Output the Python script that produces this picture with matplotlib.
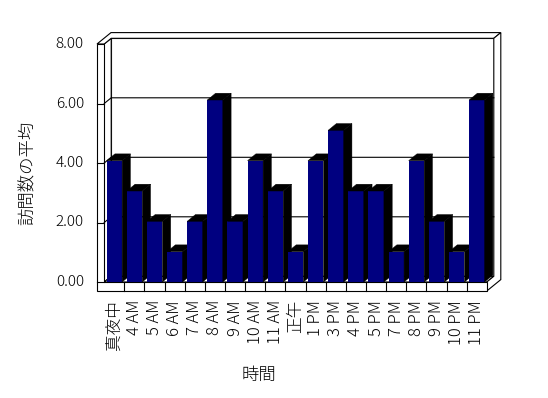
import matplotlib
matplotlib.use("Agg")
import matplotlib.pyplot as plt
from matplotlib.patches import Polygon, Rectangle
import matplotlib.transforms as mtransforms

plt.rcParams['font.family'] = ['Noto Sans CJK JP', 'DejaVu Sans']
plt.rcParams['font.weight'] = 'light'

categories = ["真夜中", "4 AM", "5 AM", "6 AM", "7 AM", "8 AM", "9 AM", "10 AM",
              "11 AM", "正午", "1 PM", "3 PM", "4 PM", "5 PM", "7 PM", "8 PM",
              "9 PM", "10 PM", "11 PM"]
values = [4, 3, 2, 1, 2, 6, 2, 4, 3, 1, 4, 5, 3, 3, 1, 4, 2, 1, 6]
y_ticks = [0, 2, 4, 6, 8]
y_tick_labels = ["0.00", "2.00", "4.00", "6.00", "8.00"]
x_title = "時間"
y_title = "訪問数の平均"

W, H = 548, 398
fig = plt.figure(figsize=(W / 100, H / 100), dpi=100)
n = len(categories)
ax = fig.add_axes([104.2 / W, (H - 282) / H, 382.6 / W, 238 / H])
ax.set_xlim(0, n)
ax.set_ylim(0, 8)
ax.axis('off')

# pixel sizes converted to data units
px_x = n / 382.6
px_y = 8 / 238.0
dxw, dyw = 7.0 * px_x, 5.7 * px_y      # box depth offset
t = 7.2 * px_x                          # left wall thickness
f = 9.0 * px_y                          # floor thickness
ymax = 8
lw = 0.8


def P(x, y, z):
    return (x + z * dxw, y + z * dyw)


def poly(pts, fc='white', ec='black', z=1, tr=None, lwid=lw):
    p = Polygon(pts, closed=True, facecolor=fc, edgecolor=ec, linewidth=lwid,
                zorder=z, clip_on=False, joinstyle='miter')
    if tr is not None:
        p.set_transform(tr)
    ax.add_patch(p)


# back wall inner face
poly([P(0, 0, 1), P(n, 0, 1), P(n, ymax, 1), P(0, ymax, 1)])
# left wall inner face
poly([P(0, 0, 0), P(0, 0, 1), P(0, ymax, 1), P(0, ymax, 0)])
# floor top
poly([P(0, 0, 0), P(n, 0, 0), P(n, 0, 1), P(0, 0, 1)])
# gridlines on walls
for v in y_ticks[1:-1]:
    xs, ys = zip(P(0, v, 0), P(0, v, 1), P(n, v, 1))
    ax.plot(xs, ys, color='black', lw=lw, zorder=1.5, clip_on=False)
# top of walls
poly([P(-t, ymax, 0), P(0, ymax, 0), P(0, ymax, 1), P(n, ymax, 1),
      P(n, ymax, 2), P(-t, ymax, 2)])
# right face of back wall + floor
poly([P(n, -f, 0), P(n, 0, 0), P(n, 0, 1), P(n, ymax, 1),
      P(n, ymax, 2), P(n, -f, 2)])
# front faces of left wall and floor
poly([P(-t, -f, 0), P(n, -f, 0), P(n, 0, 0), P(0, 0, 0),
      P(0, ymax, 0), P(-t, ymax, 0)])
for v in y_ticks[:-1]:
    ax.plot([-t, 0], [v, v], color='black', lw=lw, zorder=1.5, clip_on=False)
for i in range(1, n):
    ax.plot([i, i], [-f, 0], color='black', lw=lw, zorder=1.5, clip_on=False)

# bars
bar_tr = mtransforms.Affine2D().scale(1, 30.33 / 29.75) + ax.transData
bw, boff = 0.77, 0.12
dxb, dyb = 8.3 * px_x, 6.8 / 30.33
for i, v in enumerate(values):
    x0 = i + boff
    x1 = x0 + bw
    zb = 3 + i * 0.01
    r = Rectangle((x0, 0), bw, v, facecolor='#000080', edgecolor='none',
                  zorder=zb, clip_on=False)
    r.set_transform(bar_tr)
    ax.add_patch(r)
    poly([(x0, v), (x1, v), (x1 + dxb, v + dyb), (x0 + dxb, v + dyb)],
         fc='black', ec='black', z=zb, tr=bar_tr, lwid=0.3)
    poly([(x1, 0), (x1, v), (x1 + dxb, v + dyb), (x1 + dxb, dyb)],
         fc='black', ec='black', z=zb, tr=bar_tr, lwid=0.3)

# y tick labels
for v, lab in zip(y_ticks, y_tick_labels):
    ax.text(-t - 13 * px_x, v, lab, ha='right', va='center', fontsize=11,
            color='black', clip_on=False)

# x tick labels
for i, lab in enumerate(categories):
    ax.text(i + 0.5, -f - 9 * px_y, lab, ha='center', va='top', rotation=90,
            fontsize=12, color='black', clip_on=False)

# axis titles
fig.text(259 / W, 1 - 374.5 / H, x_title, ha='center', va='center', fontsize=12.5)
fig.text(28 / W, 1 - 172.5 / H, y_title, ha='center', va='center',
         rotation=90, fontsize=12.5)

fig.savefig("out.png", dpi=100, facecolor='white')
